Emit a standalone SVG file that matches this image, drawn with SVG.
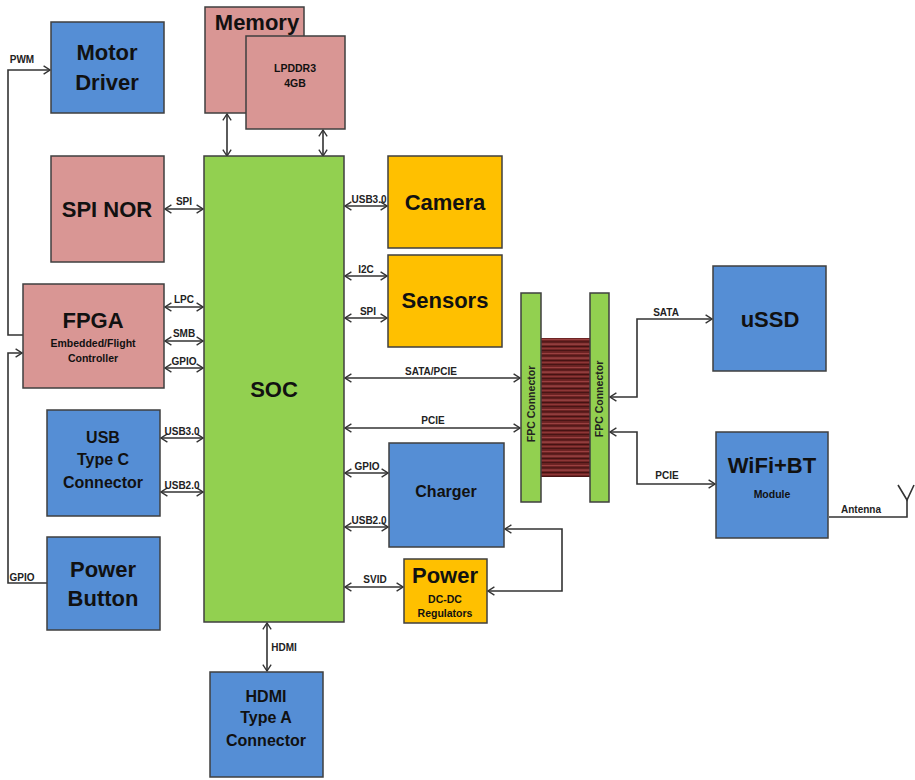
<svg xmlns="http://www.w3.org/2000/svg" width="915" height="780" viewBox="0 0 915 780">
<style>
.box{stroke:#3f3f3f;stroke-width:1.5}
.blue{fill:#558ED5}
.pink{fill:#D99694}
.green{fill:#92D050}
.gold{fill:#FFC000}
text{font-family:"Liberation Sans",Arial,sans-serif;font-weight:bold;fill:#111;text-anchor:middle}
.big{font-size:22px}
.mid{font-size:16px}
.sm{font-size:10.5px}
.lbl{font-size:10px;fill:#222}
.fpc{font-size:10.5px;fill:#222}
.ln{fill:none;stroke:#333;stroke-width:1.6}
</style>
<defs>
<marker id="ah" viewBox="0 0 10 12" refX="9" refY="6" markerWidth="8" markerHeight="10" markerUnits="userSpaceOnUse" orient="auto-start-reverse">
<path d="M1,0.8 L9,6 L1,11.2" fill="none" stroke="#333" stroke-width="1.7"/>
</marker>
<pattern id="cable" x="0" y="338" width="49" height="14" patternUnits="userSpaceOnUse">
<rect width="49" height="14" fill="#6e2424"/>
<rect y="1" width="49" height="1" fill="#9a4040"/>
<rect y="3.5" width="49" height="0.8" fill="#3a0e0e"/>
<rect y="5.5" width="49" height="1.2" fill="#a24848"/>
<rect y="8" width="49" height="0.8" fill="#3a0e0e"/>
<rect y="10" width="49" height="1" fill="#8e3636"/>
<rect y="12.4" width="49" height="0.7" fill="#2e0a0a"/>
</pattern>
</defs>

<g id="connectors">
<line class="ln" x1="227" y1="114" x2="227" y2="156" marker-start="url(#ah)" marker-end="url(#ah)"/>
<line class="ln" x1="323" y1="130" x2="323" y2="156" marker-start="url(#ah)" marker-end="url(#ah)"/>
<line class="ln" x1="165" y1="209" x2="203" y2="209" marker-start="url(#ah)" marker-end="url(#ah)"/>
<text class="lbl" x="184" y="205">SPI</text>
<line class="ln" x1="165" y1="307" x2="203" y2="307" marker-start="url(#ah)" marker-end="url(#ah)"/>
<text class="lbl" x="184" y="303">LPC</text>
<line class="ln" x1="165" y1="341" x2="203" y2="341" marker-start="url(#ah)" marker-end="url(#ah)"/>
<text class="lbl" x="184" y="337">SMB</text>
<line class="ln" x1="165" y1="368" x2="203" y2="368" marker-start="url(#ah)" marker-end="url(#ah)"/>
<text class="lbl" x="184" y="365">GPIO</text>
<line class="ln" x1="161" y1="438" x2="203" y2="438" marker-start="url(#ah)" marker-end="url(#ah)"/>
<text class="lbl" x="182" y="435">USB3.0</text>
<line class="ln" x1="161" y1="492" x2="203" y2="492" marker-start="url(#ah)" marker-end="url(#ah)"/>
<text class="lbl" x="182" y="489">USB2.0</text>
<polyline class="ln" points="23,335 8,335 8,70 50,70" marker-end="url(#ah)"/>
<text class="lbl" x="22" y="63">PWM</text>
<polyline class="ln" points="47,583 8,583 8,353 22,353" marker-end="url(#ah)"/>
<text class="lbl" x="22" y="581">GPIO</text>
<line class="ln" x1="345" y1="206" x2="387" y2="206" marker-start="url(#ah)" marker-end="url(#ah)"/>
<text class="lbl" x="369" y="203">USB3.0</text>
<line class="ln" x1="345" y1="276" x2="387" y2="276" marker-start="url(#ah)" marker-end="url(#ah)"/>
<text class="lbl" x="366" y="273">I2C</text>
<line class="ln" x1="345" y1="318" x2="387" y2="318" marker-start="url(#ah)" marker-end="url(#ah)"/>
<text class="lbl" x="368" y="315">SPI</text>
<line class="ln" x1="345" y1="378" x2="520" y2="378" marker-start="url(#ah)" marker-end="url(#ah)"/>
<text class="lbl" x="431" y="375">SATA/PCIE</text>
<line class="ln" x1="345" y1="428" x2="520" y2="428" marker-start="url(#ah)" marker-end="url(#ah)"/>
<text class="lbl" x="433" y="424">PCIE</text>
<line class="ln" x1="345" y1="473" x2="388" y2="473" marker-start="url(#ah)" marker-end="url(#ah)"/>
<text class="lbl" x="367" y="470">GPIO</text>
<line class="ln" x1="345" y1="527" x2="388" y2="527" marker-start="url(#ah)" marker-end="url(#ah)"/>
<text class="lbl" x="369" y="524">USB2.0</text>
<line class="ln" x1="345" y1="587" x2="403" y2="587" marker-start="url(#ah)" marker-end="url(#ah)"/>
<text class="lbl" x="375" y="583">SVID</text>
<polyline class="ln" points="505,529 562,529 562,591 488,591" marker-start="url(#ah)" marker-end="url(#ah)"/>
<line class="ln" x1="267" y1="623" x2="267" y2="671" marker-start="url(#ah)" marker-end="url(#ah)"/>
<text class="lbl" x="284" y="651">HDMI</text>
<polyline class="ln" points="610,397 637,397 637,319 712,319" marker-start="url(#ah)" marker-end="url(#ah)"/>
<text class="lbl" x="666" y="316">SATA</text>
<polyline class="ln" points="610,432 637,432 637,484 715,484" marker-start="url(#ah)" marker-end="url(#ah)"/>
<text class="lbl" x="667" y="479">PCIE</text>
<polyline class="ln" points="829,517 907,517 907,500"/>
<polyline class="ln" points="898,485 907,500 914,485"/>
<text class="lbl" x="861" y="513">Antenna</text>
</g>

<g id="motor-driver">
<rect class="box blue" x="51" y="22" width="113" height="91"/>
<text class="big" x="107" y="60">Motor</text>
<text class="big" x="107" y="90">Driver</text>
</g>

<g id="memory">
<rect class="box pink" x="205" y="7" width="99" height="106"/>
<text class="big" x="257" y="30">Memory</text>
</g>
<g id="lpddr3">
<rect class="box pink" x="246" y="36" width="99" height="93"/>
<text class="sm" x="295" y="72">LPDDR3</text>
<text class="sm" x="295" y="87">4GB</text>
</g>

<g id="spi-nor">
<rect class="box pink" x="51" y="156" width="113" height="106"/>
<text class="big" x="107" y="217">SPI NOR</text>
</g>

<g id="fpga">
<rect class="box pink" x="23" y="284" width="141" height="104"/>
<text class="big" x="93" y="328">FPGA</text>
<text class="sm" x="93" y="347">Embedded/Flight</text>
<text class="sm" x="93" y="362">Controller</text>
</g>

<g id="usb-type-c">
<rect class="box blue" x="47" y="410" width="113" height="106"/>
<text class="mid" x="103" y="443">USB</text>
<text class="mid" x="103" y="465">Type C</text>
<text class="mid" x="103" y="488">Connector</text>
</g>

<g id="power-button">
<rect class="box blue" x="47" y="537" width="113" height="93"/>
<text class="big" x="103" y="577">Power</text>
<text class="big" x="103" y="606">Button</text>
</g>

<g id="soc">
<rect class="box green" x="204" y="156" width="140" height="466"/>
<text class="big" x="274" y="397">SOC</text>
</g>

<g id="camera">
<rect class="box gold" x="388" y="156" width="114" height="92"/>
<text class="big" x="445" y="210">Camera</text>
</g>

<g id="sensors">
<rect class="box gold" x="388" y="255" width="114" height="92"/>
<text class="big" x="445" y="308">Sensors</text>
</g>

<g id="charger">
<rect class="box blue" x="389" y="443" width="115" height="104"/>
<text class="mid" x="446" y="497">Charger</text>
</g>

<g id="power">
<rect class="box gold" x="404" y="559" width="83" height="64"/>
<text class="big" x="445" y="583">Power</text>
<text class="sm" x="445" y="603">DC-DC</text>
<text class="sm" x="445" y="617">Regulators</text>
</g>

<g id="hdmi">
<rect class="box blue" x="210" y="672" width="113" height="105"/>
<text class="mid" x="266" y="702">HDMI</text>
<text class="mid" x="266" y="723">Type A</text>
<text class="mid" x="266" y="746">Connector</text>
</g>

<g id="fpc-cable">
<rect x="541" y="338" width="49" height="139" fill="url(#cable)"/>
</g>

<g id="fpc-left">
<rect class="box green" x="521" y="293" width="20" height="209"/>
<text class="fpc" transform="translate(535,404) rotate(-90)">FPC Connector</text>
</g>

<g id="fpc-right">
<rect class="box green" x="590" y="293" width="19" height="209"/>
<text class="fpc" transform="translate(603,399) rotate(-90)">FPC Connector</text>
</g>

<g id="ussd">
<rect class="box blue" x="713" y="266" width="113" height="105"/>
<text class="big" x="770" y="327">uSSD</text>
</g>

<g id="wifi-bt">
<rect class="box blue" x="716" y="432" width="112" height="106"/>
<text class="big" x="772" y="473">WiFi+BT</text>
<text class="sm" x="772" y="498">Module</text>
</g>
</svg>
